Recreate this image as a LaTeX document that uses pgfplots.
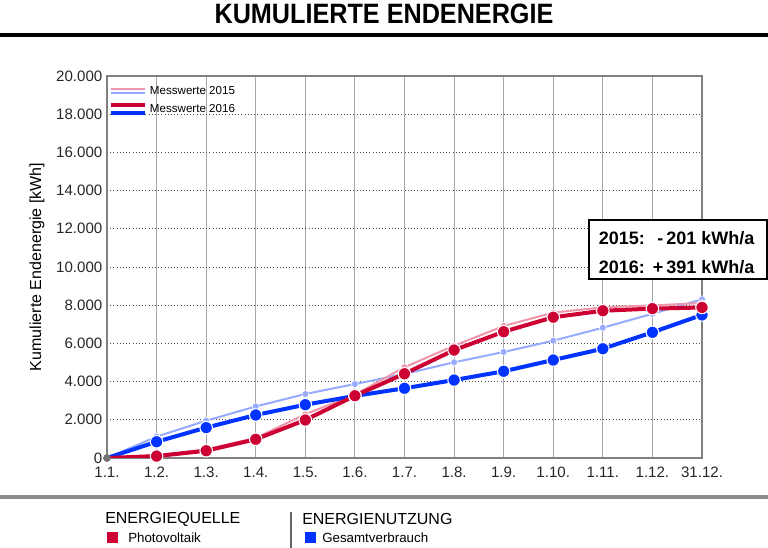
\documentclass[border=0pt]{standalone}
\usepackage{fontspec}
\setmainfont{Liberation Sans}
\newfontfamily\narrowbold[FakeStretch=0.9]{Liberation Sans Bold}
\usepackage{pgfplots}
\pgfplotsset{compat=1.18}
\definecolor{dred}{RGB}{204,0,51}
\definecolor{dblue}{RGB}{0,51,255}
\definecolor{lred}{RGB}{238,150,170}
\definecolor{lblue}{RGB}{150,170,255}
\begin{document}
\begin{tikzpicture}
\path[use as bounding box] (0,0) rectangle (576pt,411pt);
% header
\node[font=\narrowbold\fontsize{21}{24}\selectfont] at (288pt,400.5pt) {KUMULIERTE ENDENERGIE};
\fill[black] (0,383.6pt) rectangle (576pt,385.9pt);
% footer
\fill[black!45] (0,37.1pt) rectangle (576pt,39.4pt);
\node[anchor=west,inner sep=0pt,font=\fontsize{12}{14}\selectfont] at (78.75pt,21.5pt) {ENERGIEQUELLE};
\fill[dred] (80.25pt,3.75pt) rectangle (88.5pt,12pt);
\node[anchor=west,inner sep=0pt,font=\fontsize{10}{12}\selectfont] at (96pt,7.8pt) {Photovoltaik};
\draw[black!60,line width=0.8pt] (218.25pt,0) -- (218.25pt,27pt);
\node[anchor=west,inner sep=0pt,font=\fontsize{12}{14}\selectfont] at (226.5pt,21.5pt) {ENERGIENUTZUNG};
\fill[dblue] (228.75pt,3.75pt) rectangle (237pt,12pt);
\node[anchor=west,inner sep=0pt,font=\fontsize{10}{12}\selectfont] at (241.5pt,7.8pt) {Gesamtverbrauch};
\begin{axis}[
  at={(80.25pt,67.5pt)}, anchor=south west,
  scale only axis, width=446.25pt, height=286.5pt,
  xmin=0, xmax=12, ymin=0, ymax=20000,
  xtick={0,...,12},
  xticklabels={1.1.,1.2.,1.3.,1.4.,1.5.,1.6.,1.7.,1.8.,1.9.,1.10.,1.11.,1.12.,31.12.},
  ytick={0,2000,...,20000},
  scaled y ticks=false,
  yticklabel style={/pgf/number format/.cd,1000 sep={.},fixed,assume math mode=true},
  xticklabel style={/pgf/number format/assume math mode=true, yshift=-3pt},
  tick label style={font=\fontsize{11.3}{13}\selectfont, text=black!85},
  xmajorgrids, ymajorgrids,
  x grid style={draw=black!35, line width=0.8pt},
  y grid style={draw=black!70, dotted, line width=0.6pt},
  axis line style={draw=black!50, line width=1.2pt},
  xtick style={draw=none},
  ytick style={draw=none},
  ylabel={Kumulierte Endenergie [kWh]},
  ylabel style={font=\fontsize{12}{14}\selectfont, at={(axis description cs:-0.1176,0.5)}, anchor=center},
  legend style={at={(axis description cs:0.0,0.985)}, anchor=north west, draw=none, fill=none,
     font=\fontsize{8.7}{10}\selectfont, row sep=2pt, inner sep=1pt},
  legend cell align=left,
]
\addlegendimage{legend image code/.code={
  \draw[lred,line width=1.5pt] (0pt,1.6pt) -- (26pt,1.6pt);
  \draw[lblue,line width=1.5pt] (0pt,-1.6pt) -- (26pt,-1.6pt);}}
\addlegendentry{Messwerte 2015}
\addlegendimage{legend image code/.code={
  \draw[dred,line width=3pt] (0pt,2.8pt) -- (26pt,2.8pt);
  \draw[dblue,line width=3pt] (0pt,-2.8pt) -- (26pt,-2.8pt);}}
\addlegendentry{Messwerte 2016}
% 2015 consumption (light blue)
\addplot[lblue, line width=1.5pt, mark=*, mark indices={2,...,13}, mark size=2.6pt, mark options={fill=lblue, draw=white, line width=0.4pt}, forget plot]
coordinates {(0,0) (1,1120) (2,1950) (3,2700) (4,3350) (5,3870) (6,4400) (7,5010) (8,5550) (9,6140) (10,6820) (11,7550) (12,8310)};
% 2015 PV (light red)
\addplot[lred, line width=1.5pt, mark=*, mark indices={2,...,13}, mark size=2.6pt, mark options={fill=lred, draw=white, line width=0.4pt}, forget plot]
coordinates {(0,0) (1,150) (2,450) (3,1050) (4,2290) (5,3320) (6,4750) (7,5880) (8,6910) (9,7610) (10,7890) (11,7990) (12,8110)};
% 2016 consumption (blue)
\addplot[dblue, line width=3pt, mark=*, mark indices={2,...,13}, mark size=4.7pt, mark options={fill=dblue, draw=white, line width=0.8pt}, forget plot]
coordinates {(0,0) (1,850) (2,1590) (3,2250) (4,2790) (5,3250) (6,3650) (7,4080) (8,4540) (9,5130) (10,5720) (11,6580) (12,7490)};
% 2016 PV (red)
\addplot[dred, line width=3pt, mark=*, mark indices={2,...,13}, mark size=4.7pt, mark options={fill=dred, draw=white, line width=0.8pt}, forget plot]
coordinates {(0,0) (1,100) (2,380) (3,980) (4,1990) (5,3260) (6,4410) (7,5650) (8,6610) (9,7370) (10,7710) (11,7820) (12,7880)};
% start point
\addplot[only marks, mark=*, mark size=2.7pt, mark options={fill=black!55, draw=black!55}, forget plot]
coordinates {(0,0)};
\end{axis}
% annotation box
\draw[black, line width=1.1pt, fill=white] (441.75pt,201.75pt) rectangle (575.25pt,246pt);
\node[anchor=west, inner sep=0pt, font=\bfseries\fontsize{13.5}{16}\selectfont] at (449pt,232.5pt) {2015: \makebox[0.65em][r]{-}\,201 kWh/a};
\node[anchor=west, inner sep=0pt, font=\bfseries\fontsize{13.5}{16}\selectfont] at (449pt,210.75pt) {2016: \makebox[0.65em][r]{+}\,391 kWh/a};
\end{tikzpicture}
\end{document}
